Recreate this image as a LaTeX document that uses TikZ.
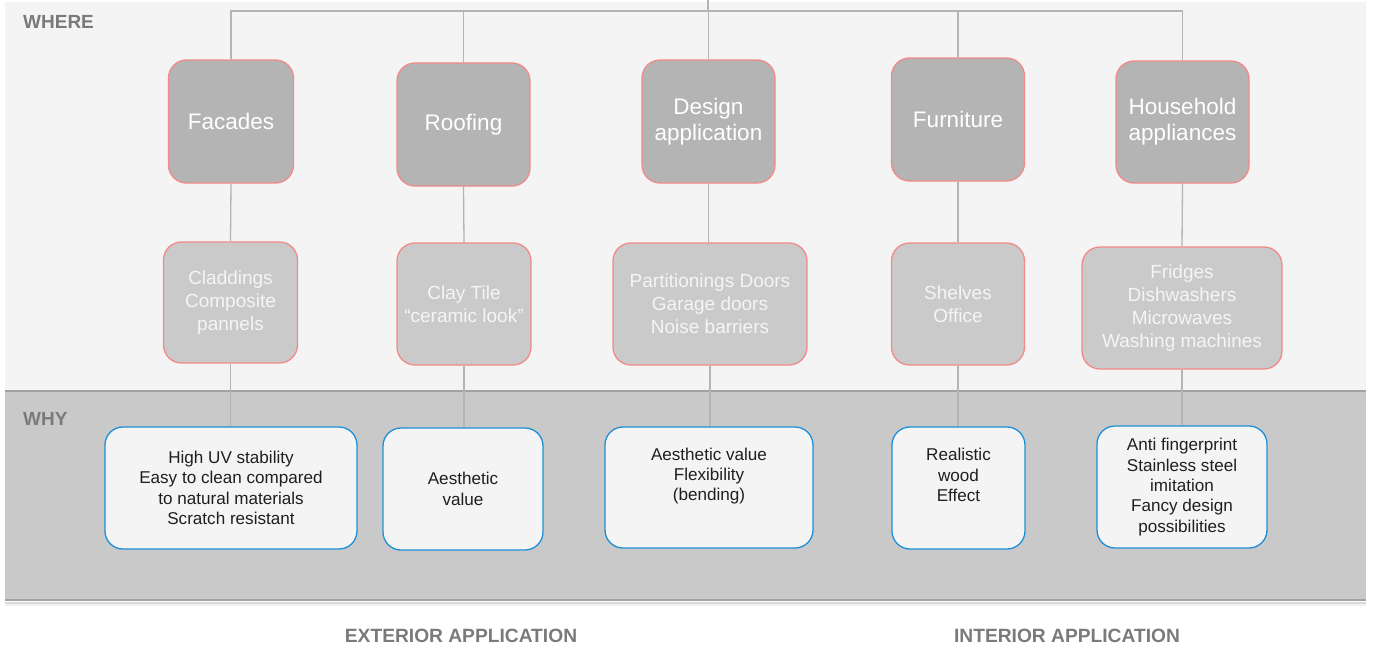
\documentclass[tikz,border=0pt]{standalone}
\usepackage{fontspec}
\setmainfont{Liberation Sans}
\definecolor{bandtop}{HTML}{F4F4F4}
\definecolor{bandwhy}{HTML}{C9C9C9}
\definecolor{topfill}{HTML}{B4B4B4}
\definecolor{subfill}{HTML}{CACACA}
\definecolor{salmon}{HTML}{F28A8A}
\definecolor{bluestroke}{HTML}{1E8FD6}
\definecolor{whyfill}{HTML}{F4F4F4}
\definecolor{connc}{HTML}{B4B4B4}
\definecolor{labelc}{HTML}{7A7A7A}
\definecolor{shadowc}{HTML}{A2A2A2}
\begin{document}
\begin{tikzpicture}[x=1pt,y=-1pt,
  topbox/.style={draw=salmon, fill=topfill, line width=1.3pt, rounded corners=18pt,
    inner sep=0pt, align=center, text=white,
    font=\fontsize{22.5}{26}\selectfont},
  subbox/.style={draw=salmon, fill=subfill, line width=1.3pt, rounded corners=18pt,
    inner sep=0pt, align=center, text=white!96!black,
    font=\fontsize{19}{23}\selectfont},
  whybox/.style={draw=bluestroke, fill=whyfill, line width=1.3pt, rounded corners=18pt,
    inner sep=0pt, align=center, text=black!88,
    font=\fontsize{17.1}{20.3}\selectfont},
  conn/.style={draw=connc, line width=1.3pt},
  bandlabel/.style={text=labelc, font=\fontsize{19}{21}\selectfont\bfseries, inner sep=0pt},
  footlabel/.style={text=labelc, font=\fontsize{19.2}{21}\selectfont\bfseries, inner sep=0pt}
]
\useasboundingbox (0,0) rectangle (1373,653);
% bands
\fill[bandtop] (5,2) rectangle (1366,390);
\fill[bandwhy] (5,390) rectangle (1366,600);
\draw[shadowc, line width=2pt] (5,391) -- (1366,391);
\draw[shadowc!60!white, line width=1pt] (5,393) -- (1366,393);
\draw[shadowc, line width=2pt] (5,600) -- (1366,600);
\draw[shadowc!40!white, line width=2pt] (5,602.5) -- (1366,602.5);
\draw[shadowc!15!white, line width=2pt] (5,604.5) -- (1366,604.5);

\node[bandlabel, anchor=west] (where) at (23,21.5) {WHERE};
\node[bandlabel, anchor=west] (why) at (23,419) {WHY};

% top level
\node[topbox, minimum width=125pt, minimum height=123pt] (f1) at (231,121.5) {Facades};
\node[topbox, minimum width=133pt, minimum height=123pt] (r1) at (463.5,124.5) {Roofing};
\node[topbox, minimum width=133pt, minimum height=123pt] (d1) at (708.5,121.5) {Design\\application};
\node[topbox, minimum width=133pt, minimum height=123pt] (u1) at (958,119.5) {Furniture};
\node[topbox, minimum width=133pt, minimum height=122pt] (h1) at (1182.5,122) {Household\\appliances};

% second level
\node[subbox, minimum width=134pt, minimum height=121pt] (f2) at (230.5,302.5) {Claddings\\Composite\\pannels};
\node[subbox, minimum width=134pt, minimum height=122pt] (r2) at (464,304) {Clay Tile\\“ceramic look”};
\node[subbox, minimum width=194pt, minimum height=122pt] (d2) at (710,304) {Partitionings Doors\\Garage doors\\Noise barriers};
\node[subbox, minimum width=133pt, minimum height=122pt] (u2) at (958,304) {Shelves\\Office};
\node[subbox, minimum width=200pt, minimum height=122pt] (h2) at (1182,308) {Fridges\\Dishwashers\\Microwaves\\Washing machines};

% why level
\node[whybox, minimum width=252pt, minimum height=122pt] (f3) at (231,488) {High UV stability\\Easy to clean compared\\to natural materials\\Scratch resistant};
\node[whybox, minimum width=160pt, minimum height=122pt] (r3) at (463,489) {Aesthetic\\value};
\node[whybox, minimum width=208pt, minimum height=121pt] (d3) at (709,487.5) {Aesthetic value\\Flexibility\\(bending)\\\strut};
\node[whybox, minimum width=133pt, minimum height=122pt] (u3) at (958.5,488) {Realistic\\wood\\Effect\\\strut};
\node[whybox, minimum width=170pt, minimum height=122pt] (h3) at (1182,487) {Anti fingerprint\\Stainless steel\\imitation\\Fancy design\\possibilities};

% footer labels
\node[footlabel] (ext) at (461,636) {EXTERIOR APPLICATION};
\node[footlabel] (int) at (1067,636) {INTERIOR APPLICATION};

% connectors
\coordinate (src) at (708,0);
\coordinate (bar) at (708,11);
\draw[conn] (src) -- (bar);
\draw[conn] (f1.north) |- (bar) -| (h1.north);
\draw[conn] (r1.north) -- (r1.north |- bar);
\draw[conn] (d1.north) -- (d1.north |- bar);
\draw[conn] (u1.north) -- (u1.north |- bar);
\draw[conn] (f1.south) -- (f2.north);
\draw[conn] (r1.south) -- (r2.north);
\draw[conn] (d1.south) -- (d1.south |- d2.north);
\draw[conn] (u1.south) -- (u2.north);
\draw[conn] (h1.south) -- (h2.north);
\draw[conn] (f2.south) -- (f2.south |- f3.north);
\draw[conn] (r2.south) -- (r2.south |- r3.north);
\draw[conn] (d2.south) -- (d2.south |- d3.north);
\draw[conn] (u2.south) -- (u2.south |- u3.north);
\draw[conn] (h2.south) -- (h3.north);
\end{tikzpicture}
\end{document}
